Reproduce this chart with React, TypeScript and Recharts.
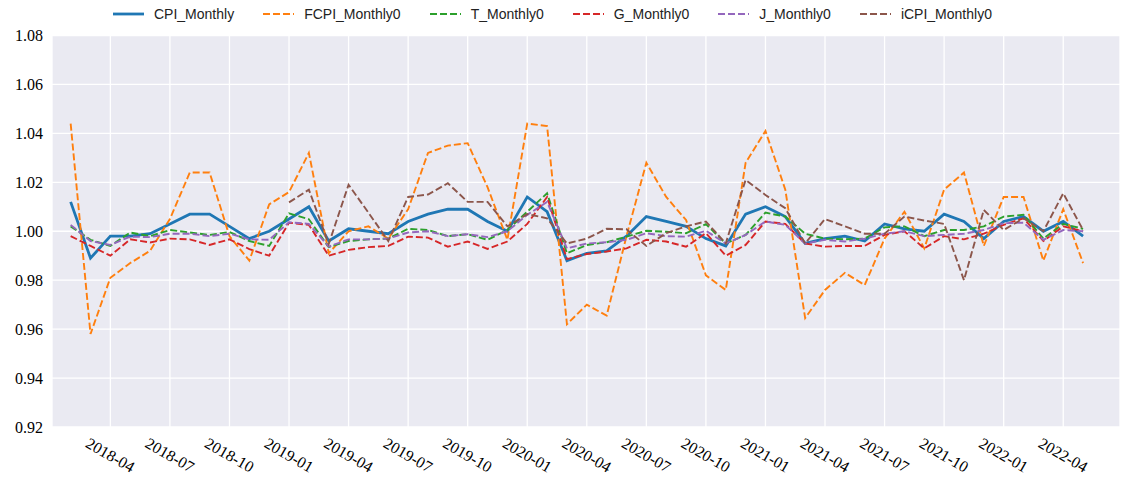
import { LineChart, Line, XAxis, YAxis, CartesianGrid } from "recharts";

// monthly index: 0 = 2018-02 ... 51 = 2022-05
const months = [
  "2018-02", "2018-03", "2018-04", "2018-05", "2018-06", "2018-07", "2018-08", "2018-09", "2018-10", "2018-11", "2018-12",
  "2019-01", "2019-02", "2019-03", "2019-04", "2019-05", "2019-06", "2019-07", "2019-08", "2019-09", "2019-10", "2019-11", "2019-12",
  "2020-01", "2020-02", "2020-03", "2020-04", "2020-05", "2020-06", "2020-07", "2020-08", "2020-09", "2020-10", "2020-11", "2020-12",
  "2021-01", "2021-02", "2021-03", "2021-04", "2021-05", "2021-06", "2021-07", "2021-08", "2021-09", "2021-10", "2021-11", "2021-12",
  "2022-01", "2022-02", "2022-03", "2022-04", "2022-05",
];

const xTicks = [2, 5, 8, 11, 14, 17, 20, 23, 26, 29, 32, 35, 38, 41, 44, 47, 50];
const yTicks = [0.92, 0.94, 0.96, 0.98, 1.0, 1.02, 1.04, 1.06, 1.08];

const cpiMonthly = [
  1.012, 0.989, 0.998, 0.998, 0.999, 1.003, 1.007, 1.007, 1.002, 0.997,
  1.0, 1.005, 1.01, 0.996, 1.001, 1.0, 0.999, 1.004, 1.007, 1.009,
  1.009, 1.004, 1.0, 1.014, 1.008, 0.988, 0.991, 0.992, 0.998, 1.006,
  1.004, 1.002, 0.997, 0.994, 1.007, 1.01, 1.006, 0.995, 0.997, 0.998,
  0.996, 1.003, 1.001, 1.0, 1.007, 1.004, 0.997, 1.004, 1.006, 1.0,
  1.004, 0.998,
];

const fcpiMonthly0 = [
  1.044, 0.958, 0.981, 0.987, 0.992, 1.005, 1.024, 1.024, 0.998, 0.988,
  1.011, 1.016, 1.032, 0.991, 1.0, 1.002, 0.997, 1.009, 1.032, 1.035,
  1.036, 1.018, 0.9965, 1.044, 1.043, 0.962, 0.97, 0.9655, 0.998, 1.028,
  1.014, 1.0046, 0.982, 0.976, 1.028, 1.041, 1.017, 0.9645, 0.976, 0.983,
  0.978, 0.997, 1.008, 0.993, 1.017, 1.024, 0.994, 1.014, 1.014, 0.988,
  1.009, 0.987,
];

const tMonthly0 = [
  1.002, 0.9965, 0.994, 0.9995, 0.998, 1.0005, 0.9995, 0.9985, 0.9997, 0.996,
  0.994, 1.0073, 1.0049, 0.9935, 0.996, 0.9967, 0.997, 1.001, 1.0005, 0.998,
  0.9988, 0.9965, 1.0005, 1.008, 1.0155, 0.991, 0.9944, 0.9955, 0.9978, 1.0002,
  0.9998, 0.9992, 1.0029, 0.995, 0.9985, 1.0076, 1.006, 0.999, 0.997, 0.9967,
  0.997, 1.0016, 1.002, 0.998, 1.0005, 1.0005, 1.002, 1.006, 1.0067, 0.997,
  1.003, 1.001,
];

const gMonthly0 = [
  0.998, 0.994, 0.99, 0.9967, 0.9954, 0.997, 0.9967, 0.9944, 0.9967, 0.9927,
  0.99, 1.0035, 1.0026, 0.99, 0.9924, 0.9935, 0.994, 0.9978, 0.9974, 0.9937,
  0.9958, 0.9928, 0.9958, 1.003, 1.014, 0.9886, 0.9907, 0.9917, 0.993, 0.9965,
  0.9958, 0.9937, 0.9992, 0.99, 0.9944, 1.004, 1.003, 0.995, 0.9937, 0.994,
  0.994, 0.9985, 1.0, 0.993, 0.998, 0.9967, 0.999, 1.0026, 1.0053, 0.996,
  1.002, 1.0,
];

const jMonthly0 = [
  1.0026, 0.996, 0.9944, 0.9978, 0.9976, 0.999, 0.999, 0.998, 0.999, 0.9967,
  0.9965, 1.0037, 1.003, 0.9937, 0.9967, 0.9967, 0.997, 0.9995, 1.0, 0.998,
  0.9988, 0.9976, 1.0, 1.0067, 1.012, 0.993, 0.995, 0.9955, 0.9965, 0.9992,
  0.998, 0.9978, 1.0002, 0.995, 0.9985, 1.004, 1.0026, 0.995, 0.9965, 0.9958,
  0.997, 0.999, 1.0, 0.998, 0.9985, 0.999, 1.0005, 1.0033, 1.0035, 0.9965,
  1.0005, 1.0,
];

// iCPI only starts in 2019-01
const icpiMonthly0 = [
  null, null, null, null, null, null, null, null, null, null,
  null, 1.0118, 1.017, 0.9948, 1.019, 1.0076, 0.996, 1.014, 1.015, 1.0196,
  1.012, 1.012, 1.002, 1.007, 1.0053, 0.995, 0.997, 1.001, 1.0008, 0.994,
  0.9992, 1.002, 1.004, 0.995, 1.021, 1.0148, 1.0094, 0.995, 1.005, 1.002,
  0.999, 0.999, 1.006, 1.0044, 1.003, 0.98, 1.0087, 1.0005, 1.0053, 1.0,
  1.0155, 1.0005,
];

const series = [
  { key: "CPI_Monthly", values: cpiMonthly, color: "#1f77b4", dashed: false },
  { key: "FCPI_Monthly0", values: fcpiMonthly0, color: "#ff7f0e", dashed: true },
  { key: "T_Monthly0", values: tMonthly0, color: "#2ca02c", dashed: true },
  { key: "G_Monthly0", values: gMonthly0, color: "#d62728", dashed: true },
  { key: "J_Monthly0", values: jMonthly0, color: "#9467bd", dashed: true },
  { key: "iCPI_Monthly0", values: icpiMonthly0, color: "#8c564b", dashed: true },
];

const data = months.map((m, i) => {
  const row: Record<string, number | string | null> = { idx: i, month: m };
  series.forEach((s) => {
    row[s.key] = s.values[i];
  });
  return row;
});

const serif = "Liberation Serif, DejaVu Serif, serif";
const sans = "Liberation Sans, Arial, sans-serif";

function DateTick({ x, payload }: any) {
  const cy = 455;
  return (
    <text
      x={x}
      y={cy}
      transform={`rotate(30 ${x} ${cy})`}
      textAnchor="middle"
      dominantBaseline="central"
      style={{ fontFamily: serif, fontSize: 16 }}
      fill="#000"
    >
      {months[payload.value]}
    </text>
  );
}

function ValueTick({ x, y, payload }: any) {
  return (
    <text
      x={x}
      y={y}
      textAnchor="end"
      dominantBaseline="central"
      style={{ fontFamily: serif, fontSize: 16 }}
      fill="#000"
    >
      {Number(payload.value).toFixed(2)}
    </text>
  );
}

function Legend() {
  return (
    <div
      style={{
        position: "absolute",
        top: 6,
        left: 113,
        display: "flex",
        alignItems: "center",
        gap: 29,
        fontFamily: sans,
        fontSize: 14,
        color: "#222",
        whiteSpace: "nowrap",
      }}
    >
      {series.map((s) => (
        <div key={s.key} style={{ display: "flex", alignItems: "center" }}>
          <svg width={31} height={6} style={{ marginRight: 10 }}>
            <line
              x1={0}
              y1={3}
              x2={31}
              y2={3}
              stroke={s.color}
              strokeWidth={s.dashed ? 1.9 : 2.8}
              strokeDasharray={s.dashed ? "7 3" : undefined}
            />
          </svg>
          <span>{s.key}</span>
        </div>
      ))}
    </div>
  );
}

export default function App() {
  return (
    <div
      style={{
        position: "absolute",
        left: 0,
        top: 0,
        width: 1122,
        height: 484,
        background: "#fff",
      }}
    >
      <Legend />
      <LineChart
        width={1122}
        height={484}
        data={data}
        margin={{ top: 35.5, right: 2, bottom: 0, left: 0 }}
      >
        <CartesianGrid fill="#EAEAF2" stroke="#ffffff" strokeWidth={1.3} />
        <XAxis
          dataKey="idx"
          type="number"
          domain={[-0.94, 52.86]}
          ticks={xTicks}
          interval={0}
          allowDataOverflow
          axisLine={false}
          tickLine={false}
          height={57}
          tick={<DateTick />}
        />
        <YAxis
          type="number"
          domain={[0.92, 1.08]}
          ticks={yTicks}
          interval={0}
          allowDataOverflow
          axisLine={false}
          tickLine={false}
          tickSize={0}
          tickMargin={9}
          width={52}
          tick={<ValueTick />}
        />
        {series.map((s) => (
          <Line
            key={s.key}
            type="linear"
            dataKey={s.key}
            stroke={s.color}
            strokeWidth={s.dashed ? 1.9 : 2.8}
            strokeDasharray={s.dashed ? "7 3" : undefined}
            dot={false}
            activeDot={false}
            isAnimationActive={false}
          />
        ))}
      </LineChart>
    </div>
  );
}
